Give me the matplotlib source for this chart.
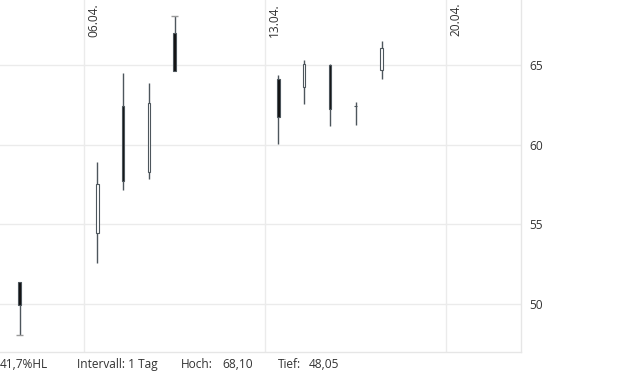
import matplotlib
matplotlib.use('Agg')
import matplotlib.pyplot as plt
import matplotlib.dates as mdates
import matplotlib.transforms as mtrans
import numpy as np

plt.rcParams['font.family'] = ['Open Sans', 'DejaVu Sans']

#%% Data (daily candles)

days = ['2020-04-03', '2020-04-06', '2020-04-07', '2020-04-08', '2020-04-09',
        '2020-04-13', '2020-04-14', '2020-04-15', '2020-04-16', '2020-04-17']
opens = [51.40, 54.45, 62.40, 58.30, 67.00, 64.15, 63.60, 65.00, 62.45, 64.70]
closes = [49.95, 57.55, 57.70, 62.60, 64.65, 61.75, 65.05, 62.25, 62.40, 66.05]
highs = [51.40, 58.90, 64.50, 63.90, 68.10, 64.35, 65.30, 65.05, 62.70, 66.50]
lows = [48.05, 52.60, 57.15, 57.85, 64.65, 60.05, 62.55, 61.20, 61.25, 64.15]

grid_days = ['2020-04-06', '2020-04-13', '2020-04-20']
grid_labels = ['06.04.', '13.04.', '20.04.']
yticks = [50, 55, 60, 65]

footer = [('41,7%HL', 0), ('Intervall: 1 Tag', 77), ('Hoch:', 181),
          ('68,10', 222), ('Tief:', 278), ('48,05', 309)]

#%% Plot

W, H = 620, 372
fig = plt.figure(figsize=(W/100, H/100), dpi=100)
ax = fig.add_axes([0, 1 - 352/H, 521/W, 352/H])

x = mdates.date2num(np.array(days, dtype='datetime64[h]')) + 0.5
xg = mdates.date2num(np.array(grid_days, dtype='datetime64[h]'))
opens, closes = np.array(opens), np.array(closes)
highs, lows = np.array(highs), np.array(lows)

wick_col = '#4d565c'
body_w = 0.11

ax.vlines(x, lows, highs, color=wick_col, lw=1.0, zorder=3)
down = closes < opens
up = ~down
bottom = np.minimum(opens, closes)
height = np.abs(closes - opens)
ax.bar(x[down], height[down], bottom=bottom[down], width=body_w,
       color='#111111', edgecolor=wick_col, lw=0.8, zorder=4)
ax.bar(x[up], height[up], bottom=bottom[up], width=body_w,
       color='white', edgecolor=wick_col, lw=0.8, zorder=4)

# markers for period high / low
ih, il = np.argmax(highs), np.argmin(lows)
ax.hlines([highs[ih], lows[il]], [x[ih] - 0.13, x[il] - 0.13],
          [x[ih] + 0.13, x[il] + 0.13], color='#9a9a9a', lw=1.0, zorder=3)

ax.set_xlim(xg[0] - 3.26, xg[0] + 16.89)
ax.set_ylim(46.99, 69.08)

ax.set_xticks(xg)
ax.set_xticklabels([])
ax.tick_params(axis='x', length=0)
ax.yaxis.tick_right()
ax.set_yticks(yticks)
ax.tick_params(axis='y', length=0, pad=6, labelsize=8.6, labelcolor='#333333')
ax.grid(True, color='#ebebeb', lw=1.0)
ax.set_axisbelow(True)

for s in ['left', 'top']:
    ax.spines[s].set_visible(False)
for s in ['right', 'bottom']:
    ax.spines[s].set_color('#e6e6e6')
    ax.spines[s].set_linewidth(1.0)

trans = mtrans.blended_transform_factory(ax.transData, ax.transAxes)
for xv, lab in zip(xg, grid_labels):
    ax.text(xv + 0.37, 1 - 3/352, lab, transform=trans, rotation=90,
            ha='center', va='top', fontsize=8.6, color='#333333')

for txt, px in footer:
    fig.text(px/W, 1 - 368/H, txt, ha='left', va='baseline',
             fontsize=8.6, color='#333333')

fig.savefig('out.png', dpi=100)
